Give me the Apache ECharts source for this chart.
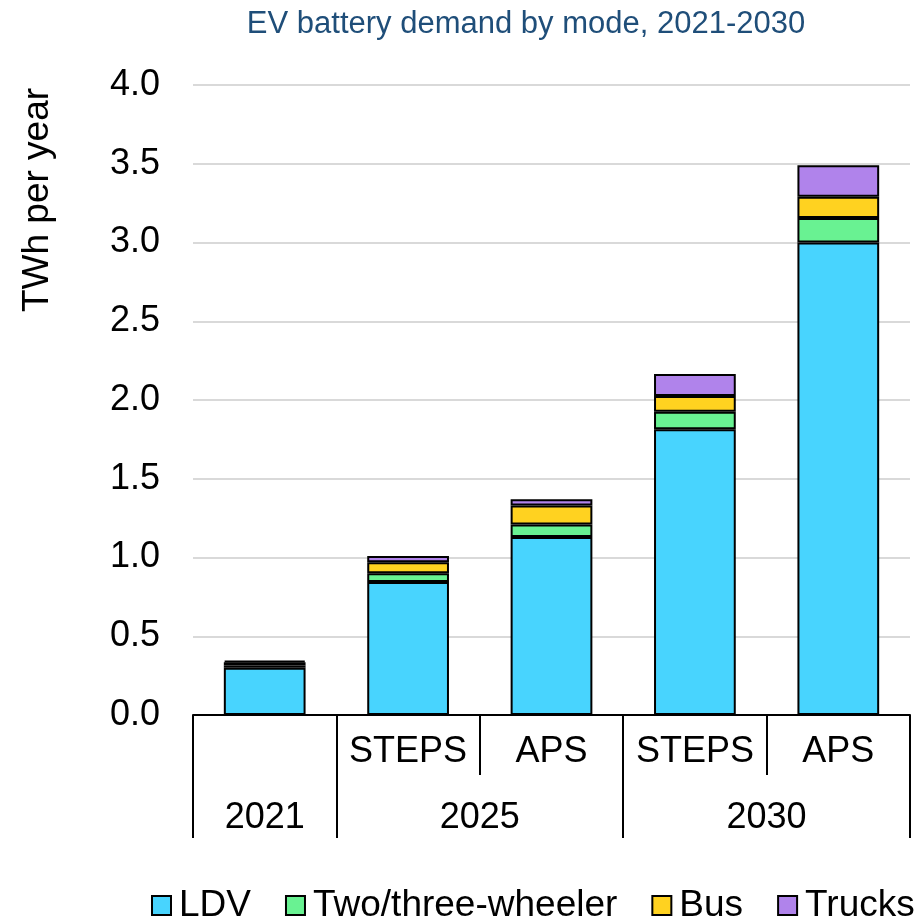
<!DOCTYPE html>
<html>
<head>
<meta charset="utf-8">
<script src="https://cdn.jsdelivr.net/npm/echarts@6/dist/echarts.min.js"></script>
<style>
  html, body { margin: 0; padding: 0; background: #fff; }
  #chart { width: 922px; height: 921px; }
</style>
</head>
<body>
<div id="chart"></div>
<script>
// scenario labels (inner level) and year labels (outer level)
const scenarios = ['', 'STEPS', 'APS', 'STEPS', 'APS'];
const years = ['2021', '2025', '2030'];
const yearCenters = [0.5, 2, 4];
const yearBounds = [0, 1, 3, 5];
const scenarioBounds = [0, 1, 2, 3, 4, 5];

// TWh per year
const ldv = [0.30, 0.845, 1.13, 1.815, 3.0];
const twoThree = [0.015, 0.055, 0.08, 0.11, 0.155];
const bus = [0.02, 0.07, 0.12, 0.10, 0.135];
const trucks = [0.01, 0.04, 0.04, 0.14, 0.20];

const yTicks = [0, 0.5, 1, 1.5, 2, 2.5, 3, 3.5, 4];

const font = 'Liberation Sans, Arial, sans-serif';

const chart = echarts.init(document.getElementById('chart'));

function barSeries(name, data, color) {
    return {
        name: name,
        type: 'bar',
        stack: 'total',
        data: data,
        barWidth: '57%',
        itemStyle: { color: color, borderColor: '#000', borderWidth: 2 }
    };
}

// helper axis: only ticks at given positions, on a 0..5 scale
function tickAxis(ticks, len, labels) {
    return {
        type: 'value',
        position: 'bottom',
        min: 0,
        max: 5,
        axisLine: { show: false },
        splitLine: { show: false },
        axisTick: { show: true, length: len, customValues: ticks, lineStyle: { color: '#000', width: 2 } },
        axisLabel: labels || { show: false }
    };
}

chart.setOption({
    animation: false,
    title: {
        text: 'EV battery demand by mode, 2021-2030',
        left: 521,
        textAlign: 'center',
        top: 4,
        textStyle: { color: '#1F4E79', fontSize: 31, fontWeight: 'normal', fontFamily: font }
    },
    graphic: [{
        type: 'text',
        x: 38,
        y: 200,
        rotation: Math.PI / 2,
        style: {
            text: 'TWh per year',
            fontSize: 37,
            fontFamily: font,
            fill: '#000',
            align: 'center',
            verticalAlign: 'middle'
        }
    }],
    legend: {
        top: 882,
        left: 146,
        itemWidth: 19,
        itemHeight: 19,
        itemGap: 34,
        icon: 'rect',
        textStyle: { fontSize: 37, color: '#000', fontFamily: font, padding: [0, 0, 0, 3] },
        itemStyle: { borderColor: '#000', borderWidth: 2 }
    },
    grid: { left: 193, right: 12, top: 85, bottom: 206 },
    xAxis: [
        {
            type: 'category',
            position: 'bottom',
            data: scenarios,
            axisLine: { lineStyle: { color: '#000', width: 2 } },
            axisTick: { show: false },
            axisLabel: { interval: 0, margin: 19, fontSize: 36, color: '#000', fontFamily: font }
        },
        tickAxis(scenarioBounds, 60),
        tickAxis(yearBounds, 123, {
            customValues: yearCenters,
            margin: 85,
            fontSize: 36,
            color: '#000',
            fontFamily: font,
            formatter: function (v) { return years[yearCenters.indexOf(v)]; }
        })
    ],
    yAxis: {
        type: 'value',
        min: 0,
        max: 4,
        interval: 0.5,
        axisLine: { show: false },
        axisTick: { show: false },
        splitLine: { lineStyle: { color: '#D9D9D9', width: 2 } },
        axisLabel: {
            margin: 33,
            fontSize: 36,
            color: '#000',
            fontFamily: font,
            formatter: function (v) { return yTicks.indexOf(v) >= 0 ? v.toFixed(1) : ''; }
        }
    },
    series: [
        barSeries('LDV', ldv, '#48D4FE'),
        barSeries('Two/three-wheeler', twoThree, '#69F292'),
        barSeries('Bus', bus, '#FFD220'),
        barSeries('Trucks', trucks, '#B083EB')
    ]
});
</script>
</body>
</html>
